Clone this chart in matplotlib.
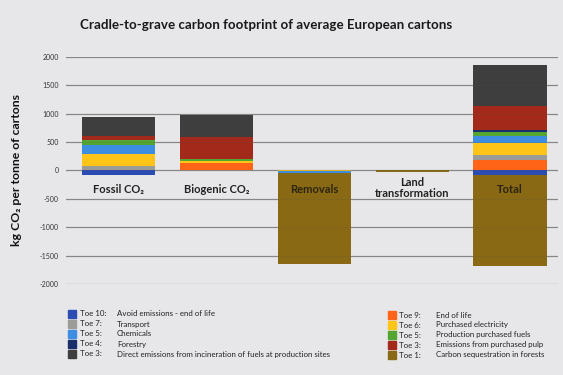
import numpy as np
import matplotlib
matplotlib.use("Agg")
import matplotlib.pyplot as plt

plt.rcParams['font.family'] = ['Lato', 'DejaVu Sans']

# categorie e valori (kg CO2 per tonnellata)
categories = ["Fossil CO₂", "Biogenic CO₂", "Removals", "Land\ntransformation", "Total"]
toe9_end_of_life = [0, 136, 0, 0, 189]
toe7_transport = [80, 0, 0, 0, 76]
toe6_electricity = [215, 36, -15, 0, 225]
toe5_chemicals = [145, 0, -35, 0, 110]
toe5_fuels = [90, 25, 0, 0, 82]
toe4_forestry = [0, 0, 0, 0, 23]
toe3_pulp = [75, 390, 0, 0, 431]
toe3_direct = [335, 385, 0, 0, 720]
toe10_avoided = [-80, 0, 0, 0, -88]
toe1_sequestration = [0, 0, -1600, -25, -1590]

yticks = [2000, 1500, 1000, 500, 0, -500, -1000, -1500, -2000]

# ordine di impilamento dal basso verso l'alto (positivi) e da zero in giu (negativi)
layers = [
    (toe9_end_of_life, "#ff6417"),
    (toe7_transport, "#9b9b98"),
    (toe6_electricity, "#ffc418"),
    (toe5_chemicals, "#3d8ee0"),
    (toe5_fuels, "#55a532"),
    (toe4_forestry, "#1b2e6c"),
    (toe3_pulp, "#a3291a"),
    (toe3_direct, "#3e3e3e"),
    (toe10_avoided, "#2a4cb3"),
    (toe1_sequestration, "#896914"),
]

# legenda: due colonne
legend_left = [
    ("#2a4cb3", "Toe 10:", "Avoid emissions - end of life"),
    ("#9b9b98", "Toe 7:", "Transport"),
    ("#3d8ee0", "Toe 5:", "Chemicals"),
    ("#1b2e6c", "Toe 4:", "Forestry"),
    ("#3e3e3e", "Toe 3:", "Direct emissions from incineration of fuels at production sites"),
]
legend_right = [
    ("#ff6417", "Toe 9:", "End of life"),
    ("#ffc418", "Toe 6:", "Purchased electricity"),
    ("#55a532", "Toe 5:", "Production purchased fuels"),
    ("#a3291a", "Toe 3:", "Emissions from purchased pulp"),
    ("#896914", "Toe 1:", "Carbon sequestration in forests"),
]

bg = "#e7e7e9"
W, H = 563, 375
fig = plt.figure(figsize=(W / 100, H / 100), dpi=100, facecolor=bg)
ax = fig.add_axes([66 / W, 1 - 284 / H, (558 - 66) / W, (284 - 56.7) / H])
ax.set_facecolor(bg)

x = np.arange(len(categories))
pos = np.zeros(len(categories))
neg = np.zeros(len(categories))
for vals, col in layers:
    v = np.array(vals, dtype=float)
    base = np.where(v >= 0, pos, neg)
    ax.bar(x, v, bottom=base, width=0.75, color=col, linewidth=0, zorder=2)
    pos = pos + np.where(v > 0, v, 0)
    neg = neg + np.where(v < 0, v, 0)

ax.set_ylim(-2000, 2000)
ax.set_xlim(-0.54, 4.49)
for t in yticks:
    ax.axhline(t, color="#909090", lw=0.9, zorder=1)
    ax.axhline(t, color="#555555", lw=0.6, alpha=0.2, zorder=3)
ax.set_yticks(yticks)
ax.set_yticklabels([str(t) for t in yticks], fontsize=5, color="#333333")
ax.tick_params(axis="y", length=0, pad=5)
ax.set_xticks([])
for s in ax.spines.values():
    s.set_visible(False)

label_y = [-330, -330, -330, -310, -340]
label_col = ["#222222", "#222222", "#2b2510", "#222222", "#2b2510"]
for xi, lab, ly, lc in zip(x, categories, label_y, label_col):
    ax.text(xi, ly, lab, ha="center", va="center", fontsize=8, fontweight="bold",
            color=lc, linespacing=0.95, zorder=4)

ax.set_ylabel("kg CO₂ per tonne of cartons", fontsize=8.8, fontweight="bold", color="#111111")
ax.yaxis.set_label_coords(-44 / (558 - 66), 0.5)

fig.text(0.473, 1 - 25 / H, "Cradle-to-grave carbon footprint of average European cartons",
         ha="center", va="center", fontsize=9.6, fontweight="bold", color="#1a1a1a")

# legenda disegnata a mano
def legenda(items, x_sq, x_toe, x_desc, y0):
    for i, (col, toe, desc) in enumerate(items):
        yy = 1 - (y0 + i * 10) / H
        fig.patches.append(plt.Rectangle((x_sq / W, yy - 3.8 / H), 7.5 / W, 7.5 / H,
                                         transform=fig.transFigure, color=col, figure=fig))
        fig.text(x_toe / W, yy, toe, fontsize=5.7, va="center", color="#222222")
        fig.text(x_desc / W, yy, desc, fontsize=5.7, va="center", color="#222222")

legenda(legend_left, 68, 80, 117, 314)
legenda(legend_right, 388, 399, 436, 315)

fig.savefig("out.png", dpi=100, facecolor=bg)
